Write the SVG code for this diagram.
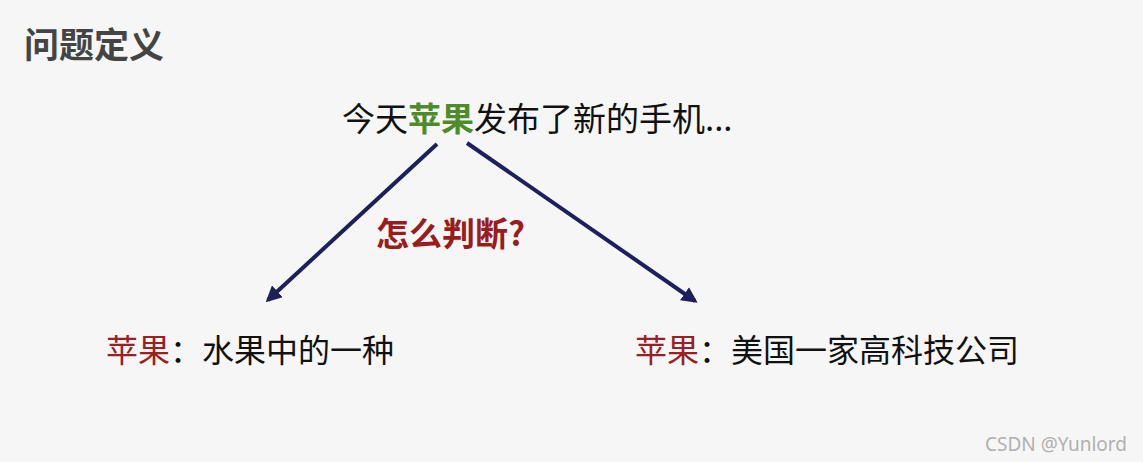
<svg xmlns="http://www.w3.org/2000/svg" width="1143" height="462" viewBox="0 0 1143 462">
<defs>
<style>
text{font-family:"Noto Sans CJK SC","Noto Sans",sans-serif;}
.t{font-size:32px;fill:#111;}
.red{fill:#9a2024;}
.green{fill:#4f8a2b;font-weight:bold;}
.conn{stroke:#1e1f5c;stroke-width:4;fill:none;marker-end:url(#ah);}
</style>
<marker id="ah" viewBox="0 0 10 10" refX="8" refY="5" markerWidth="4" markerHeight="4" orient="auto">
<path d="M0,0 L10,5 L0,10 z" fill="#1e1f5c"/>
</marker>
</defs>
<rect width="1143" height="462" fill="#f6f6f6"/>
<g id="title"><text x="24" y="58" style="font-size:35px;font-weight:bold;fill:#444">问题定义</text></g>
<g id="sentence"><text x="342" y="131" class="t" style="font-size:33px">今天<tspan class="green">苹果</tspan>发布了新的手机...</text></g>
<g id="connectors">
<line class="conn" x1="437" y1="144" x2="268" y2="300"/>
<line class="conn" x1="467" y1="143" x2="695" y2="301"/>
</g>
<g id="question"><text x="376" y="246" style="font-size:33px;font-weight:bold;fill:#9a1c1c">怎么判断?</text></g>
<g id="fruit"><text x="106" y="362" class="t"><tspan class="red">苹果</tspan>：水果中的一种</text></g>
<g id="company"><text x="635" y="362" class="t"><tspan class="red">苹果</tspan>：美国一家高科技公司</text></g>
<text x="985" y="451" style="font-size:19px;fill:#b0b0b0;font-family:'Noto Sans',sans-serif">CSDN @Yunlord</text>
</svg>
